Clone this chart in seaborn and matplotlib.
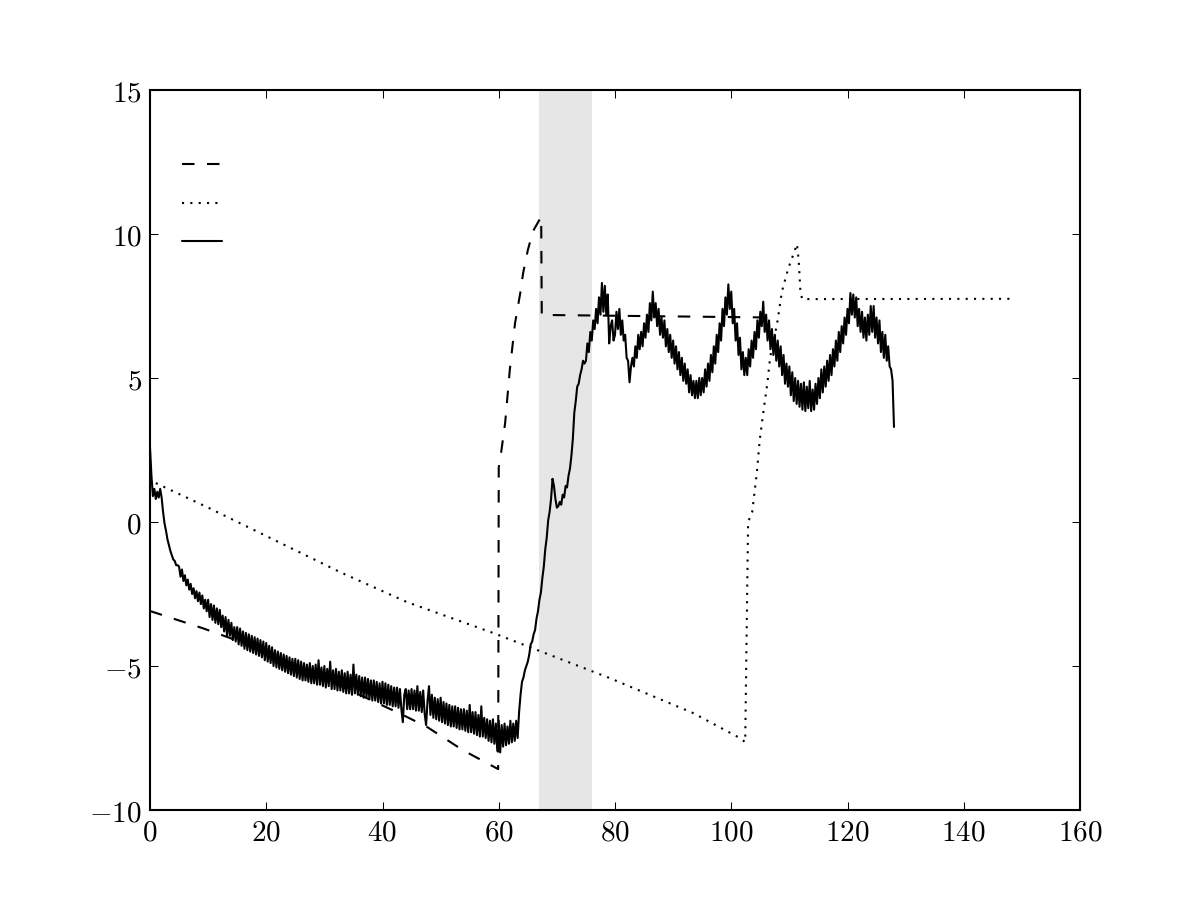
import numpy as np
import pandas as pd
import matplotlib
matplotlib.use("Agg")
import matplotlib.pyplot as plt
import seaborn as sns
from matplotlib.ticker import FuncFormatter

# ---------------- data ----------------
dashed_x = [0.0, 9.1, 13.8, 28.6, 43.5, 47.7, 53.8, 59.9,
            60.0, 60.2, 61.1, 61.9, 62.8, 63.7, 64.2, 65.0, 65.9, 67.3,
            67.4, 107.0]
dashed_y = [-3.09, -3.69, -4.03, -5.3, -6.7, -7.12, -7.92, -8.58,
            1.9, 2.1, 3.44, 5.28, 6.9, 7.95, 8.65, 9.44, 10.1, 10.6,
            7.19, 7.1]

dotted_x = [1.0, 10.0, 17.2, 32.7, 44.2, 59.0, 79.1, 93.4, 101.2, 102.4,
            102.9, 103.6, 104.4, 104.9, 105.5, 106.2, 106.7, 107.9, 108.7,
            109.8, 110.7, 111.3, 111.6, 111.9, 112.2, 148.0]
dotted_y = [1.35, 0.5, -0.21, -1.74, -2.78, -3.85, -5.42, -6.63, -7.47, -7.64,
            0.0, 0.35, 1.7, 2.85, 3.78, 4.8, 5.73, 6.9, 7.99,
            8.8, 9.3, 9.65, 9.1, 8.0, 7.74, 7.75]

solid_step = 0.25
solid_y = [
    2.6, 1.6, 0.9, 1.15, 0.8, 1.05, 0.85, 1.15, 0.85, 0.35, -0.05, -0.3, -0.6, -0.8, -1.0, -1.15, -1.3, -1.35, -1.5, -1.5,
    -1.55, -1.9, -1.65, -2.05, -1.85, -2.2, -2.0, -2.35, -2.15, -2.5, -2.3, -2.65, -2.4, -2.75, -2.45, -2.85, -2.55, -3.0, -2.7, -3.1,
    -2.7, -3.3, -2.85, -3.4, -2.9, -3.5, -3.0, -3.55, -3.05, -3.65, -3.25, -3.8, -3.3, -3.95, -3.4, -3.95, -3.5, -4.1, -3.65, -4.15,
    -3.65, -4.25, -3.7, -4.3, -3.8, -4.4, -3.85, -4.45, -3.9, -4.5, -3.95, -4.55, -4.0, -4.6, -4.05, -4.65, -4.1, -4.7, -4.15, -4.8,
    -4.2, -4.85, -4.3, -4.9, -4.35, -5.0, -4.45, -5.05, -4.5, -5.1, -4.55, -5.15, -4.6, -5.2, -4.65, -5.25, -4.7, -5.3, -4.75, -5.35,
    -4.75, -5.4, -4.8, -5.45, -4.85, -5.5, -4.9, -5.5, -4.95, -5.55, -4.9, -5.6, -5.0, -5.6, -4.95, -5.65, -4.8, -5.65, -5.05, -5.7,
    -5.0, -5.75, -5.1, -5.7, -4.85, -5.8, -5.15, -5.8, -5.1, -5.85, -5.2, -5.85, -5.15, -5.9, -5.25, -5.95, -5.2, -5.95, -5.3, -6.0,
    -4.95, -5.95, -5.3, -6.0, -5.35, -6.05, -5.4, -6.1, -5.4, -6.1, -5.45, -6.15, -5.5, -6.2, -5.5, -6.2, -5.55, -6.25, -5.6, -6.3,
    -5.55, -6.3, -5.6, -6.35, -5.65, -6.35, -5.7, -6.4, -5.75, -6.4, -5.75, -6.45, -5.8, -6.5, -6.95, -6.0, -5.8, -6.5, -5.85, -6.5,
    -5.8, -6.5, -5.85, -6.55, -5.7, -6.55, -5.9, -6.6, -5.85, -6.65, -7.05, -6.2, -5.7, -6.7, -6.0, -6.8, -6.1, -6.85, -6.15, -6.9,
    -6.1, -6.95, -6.25, -7.0, -6.3, -7.05, -6.35, -7.1, -6.4, -7.1, -6.4, -7.15, -6.45, -7.2, -6.5, -7.2, -6.5, -7.25, -6.55, -7.3,
    -6.35, -7.3, -6.6, -7.35, -6.6, -7.4, -6.7, -7.45, -6.4, -7.45, -6.8, -7.5, -6.85, -7.6, -6.9, -7.65, -6.85, -7.7, -7.0, -7.95,
    -6.9, -8.0, -7.05, -7.8, -7.0, -7.75, -7.1, -7.7, -6.9, -7.65, -7.0, -7.6, -6.9, -7.5, -6.6, -6.0, -5.55, -5.4, -5.15, -5.0,
    -4.85, -4.6, -4.25, -4.15, -3.9, -3.75, -3.35, -3.1, -2.7, -2.45, -1.95, -1.55, -0.95, -0.55, 0.05, 0.35, 0.8, 1.5, 1.25, 0.8,
    0.5, 0.55, 0.7, 0.6, 0.95, 0.85, 1.25, 1.2, 1.6, 1.85, 2.3, 2.9, 3.8, 4.2, 4.7, 4.8, 5.1, 5.3, 5.6, 5.5,
    5.6, 6.2, 5.9, 6.6, 6.3, 7.0, 6.7, 7.4, 6.9, 7.8, 7.2, 8.3, 7.3, 8.2, 7.2, 7.9, 6.2, 6.8, 7.0, 6.3,
    6.5, 7.3, 6.7, 7.4, 6.5, 7.0, 6.3, 6.5, 5.7, 5.6, 4.85, 5.4, 5.7, 5.4, 6.1, 5.7, 6.5, 6.0, 6.6, 6.1,
    6.9, 6.4, 7.2, 6.6, 7.6, 7.0, 8.0, 7.1, 7.6, 6.8, 7.4, 6.5, 7.1, 6.4, 7.0, 6.1, 6.7, 5.9, 6.5, 5.7,
    6.3, 5.5, 6.1, 5.3, 5.9, 5.1, 5.7, 4.9, 5.5, 4.8, 5.3, 4.5, 5.1, 4.4, 4.9, 4.3, 4.9, 4.3, 5.0, 4.4,
    5.0, 4.5, 5.3, 4.7, 5.5, 4.9, 5.8, 5.2, 6.1, 5.5, 6.5, 5.9, 6.9, 6.3, 7.4, 6.8, 7.8, 7.2, 8.25, 7.4,
    8.0, 6.9, 7.4, 6.3, 6.9, 5.8, 6.4, 5.3, 5.9, 5.1, 5.7, 5.1, 6.0, 5.4, 6.3, 5.7, 6.6, 6.0, 7.0, 6.4,
    7.3, 6.8, 7.65, 6.6, 7.2, 6.3, 7.0, 6.0, 6.7, 5.8, 6.5, 5.6, 6.3, 5.4, 6.1, 5.1, 5.8, 4.8, 5.5, 4.7,
    5.4, 4.4, 5.2, 4.2, 5.0, 4.1, 4.9, 4.0, 4.8, 3.9, 4.85, 3.85, 4.7, 3.95, 4.9, 3.85, 4.6, 3.9, 4.8, 4.1,
    5.0, 4.3, 5.3, 4.5, 5.4, 4.7, 5.6, 4.9, 5.8, 5.1, 6.0, 5.4, 6.3, 5.6, 6.6, 5.9, 6.8, 6.2, 7.1, 6.5,
    7.4, 6.9, 7.95, 7.2, 7.9, 7.1, 7.8, 6.8, 7.4, 6.6, 7.3, 6.4, 7.1, 6.3, 7.2, 6.5, 7.5, 6.6, 7.5, 6.4,
    7.1, 6.2, 7.0, 5.9, 6.6, 5.7, 6.5, 5.6, 6.1, 5.4, 5.3, 4.9, 3.3,
]
solid_x = [i * solid_step for i in range(len(solid_y))]

span_start, span_end = 67.0, 76.0
xticks = [0, 20, 40, 60, 80, 100, 120, 140, 160]
yticks = [-10, -5, 0, 5, 10, 15]

# ---------------- style ----------------
sns.set_theme(style="ticks")
plt.rcParams.update({
    "mathtext.fontset": "cm",
    "font.family": ["DejaVu Serif"],
    "lines.dashed_pattern": [6, 6],
    "lines.dotted_pattern": [1, 3],
    "lines.scale_dashes": False,
    "xtick.direction": "in",
    "ytick.direction": "in",
    "xtick.top": True,
    "ytick.right": True,
    "xtick.major.size": 4,
    "ytick.major.size": 4,
    "xtick.major.width": 0.5,
    "ytick.major.width": 0.5,
    "xtick.major.pad": 4,
    "ytick.major.pad": 4,
    "xtick.color": "black",
    "ytick.color": "black",
    "axes.edgecolor": "black",
    "axes.linewidth": 1.0,
})

fig = plt.figure(figsize=(8, 6), dpi=150)
ax = fig.add_axes([0.125, 0.1, 0.775, 0.8])

ax.axvspan(span_start, span_end, color="0.9", lw=0, zorder=0)

d1 = pd.DataFrame({"x": dashed_x, "y": dashed_y})
d2 = pd.DataFrame({"x": dotted_x, "y": dotted_y})
d3 = pd.DataFrame({"x": solid_x, "y": solid_y})

sns.lineplot(data=d1, x="x", y="y", ax=ax, color="black", linestyle="--",
             lw=1.0, sort=False, estimator=None, label=" ")
sns.lineplot(data=d2, x="x", y="y", ax=ax, color="black", linestyle=":",
             lw=1.0, sort=False, estimator=None, label="  ")
sns.lineplot(data=d3, x="x", y="y", ax=ax, color="black", linestyle="-",
             lw=1.0, sort=False, estimator=None, label="   ")

ax.set_xlim(0, 160)
ax.set_ylim(-10, 15)
ax.set_xticks(xticks)
ax.set_yticks(yticks)
fmt = FuncFormatter(lambda v, p: r"$%d$" % int(round(v)))
ax.xaxis.set_major_formatter(fmt)
ax.yaxis.set_major_formatter(fmt)
ax.tick_params(labelsize=14)
ax.set_xlabel("")
ax.set_ylabel("")
for s in ax.spines.values():
    s.set_visible(True)
    s.set_color("black")

ax.legend(loc="upper left", bbox_to_anchor=(0.0344, 0.91), frameon=False,
          borderpad=0, borderaxespad=0, handlelength=1.6, handletextpad=0.3,
          labelspacing=0.62, fontsize=12)

fig.savefig("out.png", dpi=150)
